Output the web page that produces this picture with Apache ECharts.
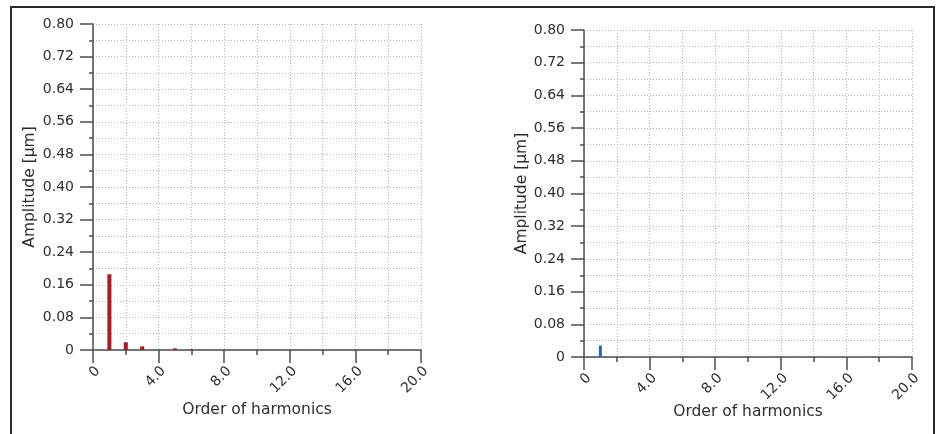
<!DOCTYPE html>
<html>
<head>
<meta charset="utf-8">
<script src="https://cdn.jsdelivr.net/npm/echarts@6/dist/echarts.min.js"></script>
<style>
  html, body { margin: 0; padding: 0; background: #fff; }
  #chart { position: absolute; left: 0; top: 0; width: 943px; height: 434px; }
  #frame { position: absolute; left: 10px; top: 6px; width: 921px; height: 440px;
           border: 2px solid #2a2a2a; border-bottom: none; pointer-events: none; }
</style>
</head>
<body>
<div id="chart"></div>
<div id="frame"></div>
<script>
// ---- data ----
const leftOrders  = [1, 2, 3, 4, 5, 6];
const leftAmp     = [0.186, 0.019, 0.009, 0.0, 0.004, 0.002];
const rightOrders = [1];
const rightAmp    = [0.028];

const xTickLabels = ['0', '4.0', '8.0', '12.0', '16.0', '20.0'];
const yTickLabels = ['0', '0.08', '0.16', '0.24', '0.32', '0.40', '0.48', '0.56', '0.64', '0.72', '0.80'];

const xName = 'Order of harmonics';
const yName = 'Amplitude [µm]';

const FONT = 'DejaVu Sans';
const AXIS_COLOR = '#4d4d4d';
const GRID_COLOR = '#b8b8b8';
const TEXT_COLOR = '#2e2e2e';

function pairs(xs, ys) { return xs.map((x, i) => [x, ys[i]]); }

function xAxis(gridIndex, nameGap) {
  return {
    type: 'value', gridIndex, min: 0, max: 20, interval: 4,
    name: xName, nameLocation: 'middle', nameGap, nameMoveOverlap: false,
    nameTextStyle: { fontFamily: FONT, fontSize: 15.5, color: TEXT_COLOR },
    axisLine: { show: true, onZero: false, lineStyle: { color: AXIS_COLOR, width: 1.5 } },
    axisTick: { show: true, inside: false, length: 13, lineStyle: { color: AXIS_COLOR, width: 1.5 } },
    minorTick: { show: true, splitNumber: 2, length: 5, lineStyle: { color: AXIS_COLOR, width: 1.5 } },
    axisLabel: {
      rotate: 45, margin: 14, verticalAlign: 'top', fontFamily: FONT, fontSize: 14, color: TEXT_COLOR,
      formatter: v => xTickLabels[Math.round(v / 4)]
    },
    splitLine: { show: true, lineStyle: { color: GRID_COLOR, type: [1, 2], width: 1 } },
    minorSplitLine: { show: true, lineStyle: { color: GRID_COLOR, type: [1, 2], width: 1 } }
  };
}

function yAxis(gridIndex, nameGap) {
  return {
    type: 'value', gridIndex, min: 0, max: 0.8, interval: 0.08,
    name: yName, nameLocation: 'middle', nameGap, nameRotate: 90, nameMoveOverlap: false,
    nameTextStyle: { fontFamily: FONT, fontSize: 15.5, color: TEXT_COLOR },
    axisLine: { show: true, lineStyle: { color: AXIS_COLOR, width: 1.5 } },
    axisTick: { show: true, inside: false, length: 13, lineStyle: { color: AXIS_COLOR, width: 1.5 } },
    minorTick: { show: true, splitNumber: 2, length: 4, lineStyle: { color: AXIS_COLOR, width: 1.5 } },
    axisLabel: {
      margin: 19, fontFamily: FONT, fontSize: 14, color: TEXT_COLOR,
      formatter: v => yTickLabels[Math.round(v / 0.08)]
    },
    splitLine: { show: true, lineStyle: { color: GRID_COLOR, type: [1, 2], width: 1 } },
    minorSplitLine: { show: true, lineStyle: { color: GRID_COLOR, type: [1, 2], width: 1 } }
  };
}

const chart = echarts.init(document.getElementById('chart'), null, { renderer: 'canvas' });
chart.setOption({
  backgroundColor: '#ffffff',
  animation: false,
  grid: [
    { left: 93, top: 24, width: 328, height: 326 },
    { left: 584, top: 30, width: 328, height: 327 }
  ],
  xAxis: [xAxis(0, 52), xAxis(1, 47)],
  yAxis: [yAxis(0, 55), yAxis(1, 54)],
  series: [
    { type: 'bar', xAxisIndex: 0, yAxisIndex: 0, barWidth: 4,
      itemStyle: { color: '#a61c1f' }, data: pairs(leftOrders, leftAmp) },
    { type: 'bar', xAxisIndex: 1, yAxisIndex: 1, barWidth: 3,
      itemStyle: { color: '#2469c4' }, data: pairs(rightOrders, rightAmp) }
  ]
});
</script>
</body>
</html>
